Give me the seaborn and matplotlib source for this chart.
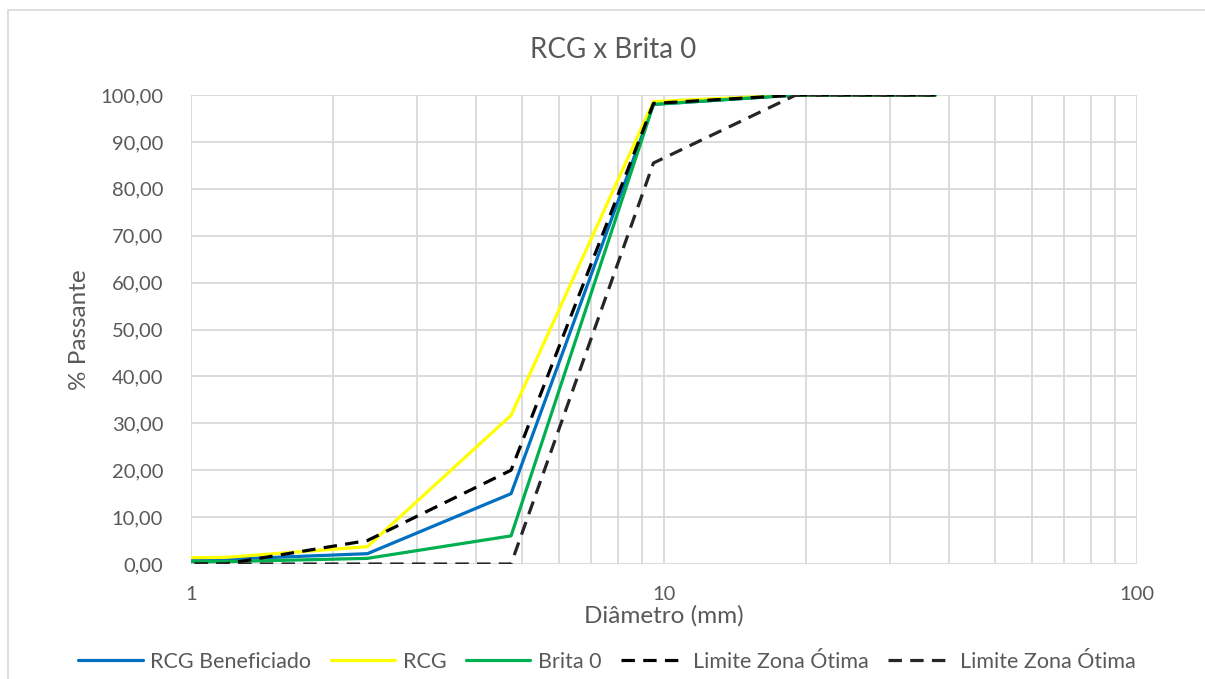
import numpy as np
import pandas as pd
import matplotlib
matplotlib.use("Agg")
import matplotlib.pyplot as plt
import seaborn as sns
from matplotlib.ticker import FuncFormatter, FixedLocator, LogLocator, NullFormatter
from matplotlib.patches import Rectangle

# ---- data ----
diametro = [0.6, 1.18, 2.36, 4.75, 9.5, 19.0, 37.5]
rcg_beneficiado = [1.0, 1.0, 2.2, 15.0, 98.0, 100.0, 100.0]
rcg = [1.2, 1.4, 3.7, 31.7, 98.6, 100.0, 100.0]
brita0 = [0.5, 0.5, 1.2, 6.0, 98.0, 100.0, 100.0]
limite_sup = [0.0, 0.0, 5.0, 20.0, 98.2, 100.0, 100.0]
limite_inf = [0.0, 0.0, 0.0, 0.0, 85.5, 100.0, 100.0]

series_names = ["RCG Beneficiado", "RCG", "Brita 0", "Limite Zona Ótima", "Limite Zona Ótima"]
series_vals = [rcg_beneficiado, rcg, brita0, limite_sup, limite_inf]
colors = ["#0070C0", "#FFFF00", "#00B050", "#000000", "#262626"]
styles = ["-", "-", "-", (0, (4.2, 2.6)), (0, (4.2, 2.6))]

sns.set_theme(style="white")
plt.rcParams['font.family'] = ['Lato', 'DejaVu Sans']
txt = "#595959"

W, H = 1205, 679
fig = plt.figure(figsize=(W / 100, H / 100), dpi=100)
fig.patch.set_facecolor("white")
ax = fig.add_axes([191 / W, 1 - 564 / H, (1137 - 191) / W, (564 - 95) / H])

# chart border (partially outside image)
fig.patches.append(Rectangle((8 / W, -0.1), 1.2, 1 - 10 / H + 0.1, transform=fig.transFigure,
                             fill=False, edgecolor="#d9d9d9", linewidth=1.2))

for name, vals, c, ls in zip(series_names, series_vals, colors, styles):
    df = pd.DataFrame({"d": diametro, "p": vals})
    sns.lineplot(data=df, x="d", y="p", ax=ax, color=c, linestyle=ls,
                 linewidth=2.3, label=name, sort=False, legend=False)

ax.set_xscale("log")
ax.set_xlim(1, 100)
ax.set_ylim(0, 100)
ax.set_yticks(np.arange(0, 101, 10))
ax.yaxis.set_major_formatter(FuncFormatter(lambda v, p: f"{v:.2f}".replace(".", ",")))
ax.xaxis.set_major_locator(FixedLocator([1, 10, 100]))
ax.xaxis.set_major_formatter(FuncFormatter(lambda v, p: f"{v:g}"))
ax.xaxis.set_minor_locator(LogLocator(base=10, subs=np.arange(2, 10)))
ax.xaxis.set_minor_formatter(NullFormatter())

ax.grid(True, which="major", axis="both", color="#d9d9d9", linewidth=1.3)
ax.grid(True, which="minor", axis="x", color="#d9d9d9", linewidth=1.3)
ax.set_axisbelow(True)
for s in ax.spines.values():
    s.set_visible(False)
ax.tick_params(axis="both", which="both", length=0, labelsize=14.5, colors=txt)
ax.tick_params(axis="y", pad=20)
ax.tick_params(axis="x", pad=16)

ax.set_xlabel("Diâmetro (mm)", fontsize=17.5, color=txt, labelpad=1)
ax.set_ylabel("% Passante", fontsize=17.5, color=txt, labelpad=7)
fig.text(613 / W, 1 - 50 / H, "RCG x Brita 0", ha="center", va="center", fontsize=20, color=txt)

handles, labels = ax.get_legend_handles_labels()
leg = fig.legend(handles, labels, loc="center", bbox_to_anchor=(607 / W, 1 - 662 / H), ncol=5,
                 frameon=False, fontsize=15.5, handlelength=3.0, handletextpad=0.35,
                 columnspacing=0.9)
for t in leg.get_texts():
    t.set_color(txt)

fig.savefig("out.png", dpi=100, facecolor="white")
